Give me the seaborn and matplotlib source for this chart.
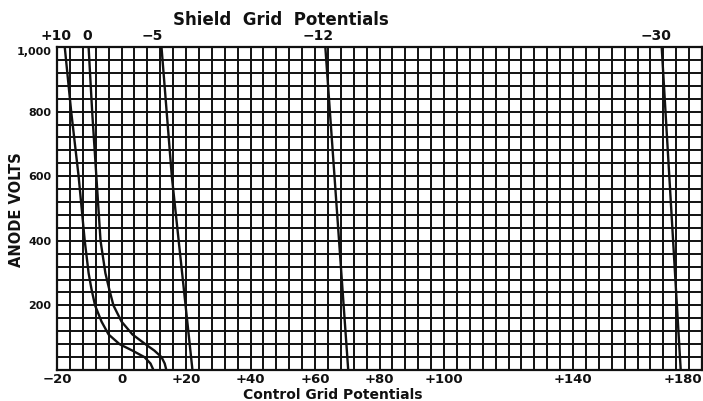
import matplotlib
matplotlib.use("Agg")
import matplotlib.pyplot as plt
from matplotlib.ticker import MultipleLocator
import pandas as pd
import seaborn as sns

# Anode volts vs. control grid potential, one curve per shield grid potential
shield_potentials = ["+10", "0", "\u22125", "\u221212", "\u221230"]

anode_plus10 = [1000, 800, 600, 400, 300, 250, 200, 150, 110, 80, 60, 40, 20, 0]
grid_plus10 = [-17.6, -15.6, -13.3, -11.4, -10.2, -9.3, -8.2, -6.2, -4.0, -0.6, 3.4, 7.1, 9.0, 9.9]

anode_zero = [1000, 800, 600, 400, 300, 250, 200, 150, 110, 80, 60, 40, 20, 0]
grid_zero = [-10.2, -9.1, -7.8, -6.5, -5.0, -3.8, -2.5, 0.0, 3.4, 7.4, 10.2, 12.4, 13.4, 13.9]

anode_minus5 = [1000, 600, 0]
grid_minus5 = [12.4, 15.6, 22.0]

anode_minus12 = [1000, 0]
grid_minus12 = [63.2, 70.3]

anode_minus30 = [1000, 0]
grid_minus30 = [167.5, 173.4]

x_tick_values = [-20, 0, 20, 40, 60, 80, 100, 140, 180]
x_tick_labels = ["\u221220", "0", "+20", "+40", "+60", "+80", "+100", "+140", "+180"]
y_tick_values = [200, 400, 600, 800, 1000]
y_tick_labels = ["200", "400", "600", "800", "1,000"]

curves = [
    (grid_plus10, anode_plus10),
    (grid_zero, anode_zero),
    (grid_minus5, anode_minus5),
    (grid_minus12, anode_minus12),
    (grid_minus30, anode_minus30),
]
frames = []
for label, (g, a) in zip(shield_potentials, curves):
    frames.append(pd.DataFrame({"control": g, "anode": a, "shield": label}))
df = pd.concat(frames, ignore_index=True)

sns.set_theme(style="white")
plt.rcParams["font.family"] = ["DejaVu Sans"]

fig = plt.figure(figsize=(7.03, 4.01), dpi=100)
W, H = 703, 401
ax = fig.add_axes([57 / W, 1 - 370 / H, (702 - 57) / W, (370 - 47) / H])

ink = "#111111"
ax.set_xlim(-20, 180)
ax.set_ylim(0, 1000)

# graph-paper ruling
ax.xaxis.set_minor_locator(MultipleLocator(4))
ax.yaxis.set_minor_locator(MultipleLocator(40))
ax.grid(True, which="both", color=ink, linewidth=1.4)
ax.set_axisbelow(True)
for s in ax.spines.values():
    s.set_color(ink)
    s.set_linewidth(1.6)

sns.lineplot(data=df, x="control", y="anode", units="shield", estimator=None,
             sort=False, color=ink, linewidth=1.7, ax=ax, legend=False)

ax.set_xticks(x_tick_values)
ax.set_xticklabels(x_tick_labels, fontsize=9.5, fontweight="bold", color=ink)
ax.set_yticks(y_tick_values)
ax.set_yticklabels(y_tick_labels, fontsize=8, fontweight="bold", color=ink)
ax.tick_params(axis="x", which="both", length=0, pad=2)
ax.tick_params(axis="y", which="major", length=3, width=1.3, color=ink, pad=1)
ax.tick_params(axis="y", which="minor", length=0)
ax.get_xticklabels()[-1].set_horizontalalignment("right")
ax.get_yticklabels()[-1].set_verticalalignment("top")
ax.set_xlabel("")
ax.set_ylabel("")

# shield grid potential labels at the top of each curve
label_offsets = [-6.0, -0.7, -6.5, -5.0, -4.3]
for label, (g, a), dx in zip(shield_potentials, curves, label_offsets):
    ax.annotate(label, xy=(g[0], a[0]), xytext=(dx, 3), textcoords="offset points",
                ha="center", va="bottom", fontsize=10, fontweight="bold", color=ink,
                annotation_clip=False)

fig.text(281 / W, 1 - 20 / H, "Shield  Grid  Potentials", ha="center", va="center",
         fontsize=12, fontweight="bold", color=ink)
fig.text(333 / W, 1 - 395 / H, "Control Grid Potentials", ha="center", va="center",
         fontsize=10, fontweight="bold", color=ink)
fig.text(17 / W, 1 - 210 / H, "ANODE VOLTS", ha="center", va="center", rotation=90,
         fontsize=10.5, fontweight="bold", color=ink)

fig.savefig("out.png", dpi=100, facecolor="white")
